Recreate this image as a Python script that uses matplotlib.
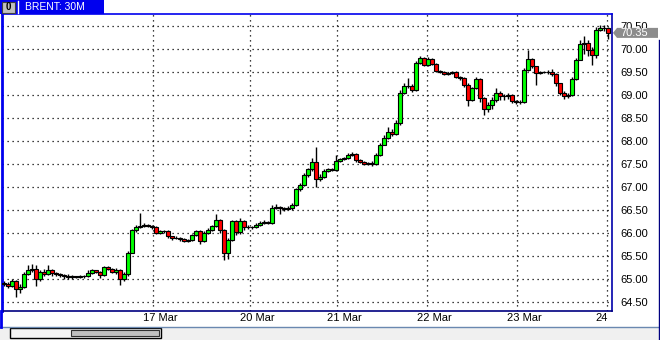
import numpy as np
import matplotlib
matplotlib.use("Agg")
import matplotlib.pyplot as plt
from matplotlib.patches import Rectangle, Polygon
from matplotlib.lines import Line2D
from matplotlib import transforms

# Brent 30M candles (resampled to one candle per 4 px of the original chart)
first_open = 64.90
closes = [
    64.88, 64.85, 64.95, 64.78, 64.82, 65.10, 65.20, 65.22, 65.00, 65.15,
    65.10, 65.20, 65.12, 65.10, 65.08, 65.05, 65.03, 65.05, 65.04, 65.06,
    65.05, 65.12, 65.18, 65.15, 65.08, 65.25, 65.22, 65.15, 65.20, 65.00,
    65.10, 65.57, 66.05, 66.12, 66.15, 66.18, 66.15, 66.12, 66.00, 66.03,
    66.03, 65.92, 65.88, 65.89, 65.86, 65.83, 65.84, 65.95, 66.03, 65.82,
    66.00, 66.07, 66.15, 66.27, 66.05, 65.55, 65.85, 66.25, 66.02, 66.25,
    66.13, 66.12, 66.12, 66.18, 66.22, 66.24, 66.22, 66.55, 66.57, 66.53,
    66.52, 66.54, 66.60, 66.95, 67.05, 67.25, 67.38, 67.55, 67.17, 67.22,
    67.35, 67.38, 67.37, 67.57, 67.60, 67.62, 67.70, 67.72, 67.58, 67.55,
    67.50, 67.52, 67.50, 67.70, 67.92, 68.07, 68.20, 68.15, 68.38, 69.05,
    69.20, 69.20, 69.10, 69.70, 69.80, 69.65, 69.78, 69.68, 69.52, 69.50,
    69.46, 69.47, 69.50, 69.40, 69.36, 69.22, 68.90, 69.15, 69.35, 68.93,
    68.70, 68.77, 68.90, 69.05, 68.97, 68.98, 69.00, 68.86, 68.85, 68.84,
    69.55, 69.78, 69.62, 69.47, 69.50, 69.50, 69.50, 69.45, 69.25, 69.05,
    68.98, 69.00, 69.35, 69.77, 70.10, 70.13, 69.98, 69.87, 70.42, 70.45,
    70.45, 70.35,
]
highs = [
    64.95, 64.92, 65.00, 64.97, 64.88, 65.14, 65.30, 65.32, 65.30, 65.20,
    65.22, 65.30, 65.22, 65.15, 65.12, 65.10, 65.10, 65.08, 65.07, 65.09,
    65.08, 65.18, 65.22, 65.20, 65.16, 65.28, 65.28, 65.24, 65.24, 65.22,
    65.14, 65.60, 66.08, 66.16, 66.43, 66.22, 66.20, 66.18, 66.14, 66.06,
    66.06, 66.05, 65.94, 65.92, 65.91, 65.88, 65.87, 65.98, 66.06, 66.05,
    66.03, 66.10, 66.18, 66.40, 66.30, 66.08, 65.88, 66.28, 66.28, 66.32,
    66.27, 66.16, 66.15, 66.21, 66.25, 66.27, 66.26, 66.60, 66.62, 66.59,
    66.56, 66.58, 66.65, 66.98, 67.09, 67.30, 67.42, 67.62, 67.86, 67.27,
    67.38, 67.41, 67.40, 67.70, 67.63, 67.66, 67.74, 67.76, 67.74, 67.60,
    67.57, 67.55, 67.56, 67.73, 67.95, 68.12, 68.30, 68.25, 68.45, 69.10,
    69.26, 69.36, 69.24, 69.74, 69.84, 69.82, 69.83, 69.80, 69.70, 69.54,
    69.52, 69.50, 69.53, 69.52, 69.42, 69.38, 69.25, 69.18, 69.38, 69.37,
    68.96, 68.85, 68.95, 69.15, 69.08, 69.03, 69.04, 69.02, 68.89, 68.88,
    69.58, 69.98, 69.80, 69.64, 69.53, 69.53, 69.54, 69.56, 69.47, 69.27,
    69.08, 69.04, 69.38, 69.80, 70.20, 70.28, 70.20, 70.05, 70.48, 70.52,
    70.52, 70.48,
]
lows = [
    64.84, 64.80, 64.82, 64.60, 64.70, 64.80, 65.08, 65.15, 64.85, 64.95,
    65.05, 65.08, 65.05, 65.06, 65.04, 65.00, 65.00, 65.00, 65.01, 65.02,
    65.02, 65.03, 65.10, 65.12, 65.02, 65.06, 65.18, 65.12, 65.10, 64.87,
    64.95, 65.05, 65.55, 66.02, 66.10, 66.12, 66.12, 66.08, 65.97, 65.98,
    66.00, 65.89, 65.85, 65.86, 65.83, 65.80, 65.81, 65.82, 65.92, 65.75,
    65.80, 65.97, 66.04, 66.13, 66.00, 65.40, 65.42, 65.82, 65.95, 65.98,
    66.05, 66.09, 66.09, 66.10, 66.15, 66.20, 66.19, 66.20, 66.52, 66.40,
    66.48, 66.49, 66.50, 66.58, 66.92, 67.02, 67.22, 67.35, 66.99, 67.12,
    67.19, 67.32, 67.34, 67.35, 67.54, 67.58, 67.60, 67.68, 67.55, 67.52,
    67.47, 67.48, 67.46, 67.48, 67.68, 67.90, 68.05, 68.10, 68.13, 68.35,
    69.02, 69.15, 69.06, 69.08, 69.67, 69.62, 69.63, 69.65, 69.49, 69.47,
    69.43, 69.44, 69.45, 69.37, 69.32, 69.18, 68.75, 68.86, 69.12, 68.85,
    68.57, 68.62, 68.70, 68.85, 68.88, 68.90, 68.92, 68.82, 68.81, 68.81,
    68.82, 69.52, 69.58, 69.22, 69.45, 69.47, 69.46, 69.42, 69.20, 69.00,
    68.92, 68.94, 68.97, 69.32, 69.75, 69.90, 69.85, 69.65, 69.80, 70.40,
    70.40, 70.22,
]
price_levels = [64.5, 65.0, 65.5, 66.0, 66.5, 67.0, 67.5, 68.0, 68.5, 69.0, 69.5, 70.0, 70.5]
day_labels = ["17 Mar", "20 Mar", "21 Mar", "22 Mar", "23 Mar", "24"]
day_starts = [37.25, 61.5, 83.25, 105.75, 128.25, 150.75]  # candle index of each day boundary

W, H = 660, 340
fig = plt.figure(figsize=(W / 100, H / 100), dpi=100)
fig.patch.set_facecolor("white")
ax = fig.add_axes([2 / W, 29 / H, 610 / W, 297 / H])

closes = np.array(closes)
highs = np.array(highs)
lows = np.array(lows)
opens = np.concatenate([[first_open], closes[:-1]])
x = np.arange(len(closes))
up = closes >= opens
bottoms = np.minimum(opens, closes)
heights = np.abs(closes - opens)
colors = np.where(up, "#00ff00", "#ff0000")

# wicks and bodies
ax.vlines(x, lows, highs, color="black", lw=1, zorder=2)
ax.bar(x, heights, bottom=bottoms, width=0.78, color=colors,
       edgecolor="black", linewidth=0.8, zorder=3)

ax.set_xlim(-0.5, 152)
ax.set_ylim(64.298, 70.761)

# dotted grid
ax.set_yticks(price_levels)
ax.set_yticklabels([f"{p:.2f}" for p in price_levels])
ax.set_xticks(day_starts)
ax.set_xticklabels([])
ax.grid(True, color="black", linestyle=(0, (1, 3)), linewidth=0.9, zorder=1)
ax.yaxis.tick_right()
ax.tick_params(axis="y", length=0, pad=6, labelsize=8)
ax.tick_params(axis="x", length=0)
for lab in ax.get_yticklabels():
    lab.set_fontfamily("Liberation Sans")

ax.spines["left"].set_color("#0000ee")
ax.spines["top"].set_color("#0000ee")
ax.spines["right"].set_color("#0000aa")
ax.spines["bottom"].set_color("#000080")
ax.spines["left"].set_linewidth(2)
for side in ["top", "right", "bottom"]:
    ax.spines[side].set_linewidth(1.2)

# date labels, shifted a bit right of the day boundary
lab_tr = transforms.offset_copy(ax.get_xaxis_transform(), fig=fig, x=7.5, y=-2, units="dots")
end_tr = transforms.offset_copy(ax.get_xaxis_transform(), fig=fig, x=1, y=-2, units="dots")
for pos, lab in zip(day_starts, day_labels):
    if lab == day_labels[-1]:
        ax.text(pos, 0, lab, transform=end_tr, ha="right", va="top", fontsize=8,
                family="Liberation Sans")
    else:
        ax.text(pos, 0, lab, transform=lab_tr, ha="center", va="top", fontsize=8,
                family="Liberation Sans")

# last price marker on the right axis
ident = transforms.IdentityTransform()
last = closes[-1]
yc = ax.transData.transform((0, last))[1]
fig.patches.append(Polygon([[613, yc], [617, yc + 5], [658, yc + 5], [658, yc - 5], [617, yc - 5]],
                           closed=True, fc="#8c8c8c", ec="none", transform=ident, figure=fig))
fig.text(620, yc, f"{last:.2f}", transform=ident, color="white", va="center", ha="left",
         fontsize=8, family="Liberation Sans")

# title bar
fig.patches.append(Rectangle((0, 1 - 14 / H), 104 / W, 14 / H, transform=fig.transFigure,
                             fc="#0000ee", ec="none", figure=fig))
fig.patches.append(Rectangle((2 / W, 1 - 13 / H), 13 / W, 11 / H, transform=fig.transFigure,
                             fc="#c0c0c0", ec="#404040", lw=0.8, figure=fig))
fig.text(8.5 / W, 1 - 7.5 / H, "0", ha="center", va="center", fontsize=7, weight="bold",
         family="Liberation Sans")
fig.add_artist(Line2D([17.5 / W, 17.5 / W], [1 - 13 / H, 1 - 1 / H], color="white", lw=1))
fig.text(25 / W, 1 - 7.5 / H, "BRENT: 30M", color="white", ha="left", va="center",
         fontsize=7.5, family="Liberation Sans")

# bottom scroll area and window edges
fig.patches.append(Rectangle((0, 0), 1, 13 / H, transform=fig.transFigure,
                             fc="#f0f0f0", ec="none", figure=fig))
fig.add_artist(Line2D([0, 1], [13 / H, 13 / H], color="#6a88b0", lw=1))
fig.add_artist(Line2D([1 / W, 1 / W], [13 / H, 29 / H], color="#0000ee", lw=2))
fig.add_artist(Line2D([659 / W, 659 / W], [0, 300 / H], color="#000080", lw=1))
fig.patches.append(Rectangle((10 / W, 2 / H), 151 / W, 10 / H, transform=fig.transFigure,
                             fc="#f4f4f4", ec="black", lw=1, figure=fig))
fig.patches.append(Rectangle((71 / W, 4 / H), 88 / W, 6 / H, transform=fig.transFigure,
                             fc="#c0c0c0", ec="#303030", lw=0.8, figure=fig))

fig.savefig("out.png", dpi=100)
